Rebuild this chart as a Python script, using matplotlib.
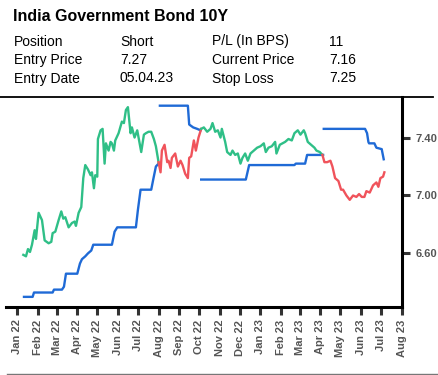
import pandas as pd
import matplotlib.pyplot as plt
import matplotlib.dates as mdates
from matplotlib.lines import Line2D

plt.rcParams['font.family'] = ['Liberation Sans', 'DejaVu Sans']

# yield history
price_dates = [
    "2022-01-10", "2022-01-14", "2022-01-17", "2022-01-20", "2022-01-23", "2022-01-27",
    "2022-01-29", "2022-02-02", "2022-02-07", "2022-02-11", "2022-02-17", "2022-02-21",
    "2022-02-23", "2022-02-27", "2022-03-04", "2022-03-08", "2022-03-11", "2022-03-14",
    "2022-03-19", "2022-03-24", "2022-03-28", "2022-03-30", "2022-04-03", "2022-04-07",
    "2022-04-10", "2022-04-13", "2022-04-17", "2022-04-21", "2022-04-23", "2022-04-26",
    "2022-04-28", "2022-05-01", "2022-05-02", "2022-05-06", "2022-05-09", "2022-05-12",
    "2022-05-14", "2022-05-18", "2022-05-21", "2022-05-23", "2022-05-26", "2022-05-28",
    "2022-06-02", "2022-06-07", "2022-06-10", "2022-06-13", "2022-06-16", "2022-06-20",
    "2022-06-22", "2022-06-26", "2022-06-30", "2022-07-02", "2022-07-06", "2022-07-10",
    "2022-07-13", "2022-07-17", "2022-07-21", "2022-07-25", "2022-07-28", "2022-08-01",
    "2022-08-04", "2022-08-06", "2022-08-10", "2022-08-14", "2022-08-16", "2022-08-19",
    "2022-08-21", "2022-08-26", "2022-08-30", "2022-09-03", "2022-09-06", "2022-09-10",
    "2022-09-14", "2022-09-16", "2022-09-19", "2022-09-23", "2022-09-26", "2022-09-30",
    "2022-10-04", "2022-10-08", "2022-10-13", "2022-10-18", "2022-10-21", "2022-10-25",
    "2022-10-29", "2022-11-02", "2022-11-04", "2022-11-09", "2022-11-12", "2022-11-17",
    "2022-11-20", "2022-11-24", "2022-11-28", "2022-12-02", "2022-12-05", "2022-12-09",
    "2022-12-13", "2022-12-17", "2022-12-22", "2022-12-27", "2023-01-01", "2023-01-06",
    "2023-01-09", "2023-01-13", "2023-01-18", "2023-01-23", "2023-01-25", "2023-01-30",
    "2023-02-03", "2023-02-07", "2023-02-12", "2023-02-17", "2023-02-21", "2023-02-26",
    "2023-03-02", "2023-03-07", "2023-03-09", "2023-03-13", "2023-03-18", "2023-03-23",
    "2023-03-26", "2023-03-31", "2023-04-04", "2023-04-07", "2023-04-11", "2023-04-16",
    "2023-04-19", "2023-04-23", "2023-04-28", "2023-05-02", "2023-05-05", "2023-05-10",
    "2023-05-15", "2023-05-20", "2023-05-25", "2023-05-29", "2023-06-02", "2023-06-06",
    "2023-06-09", "2023-06-14", "2023-06-19", "2023-06-24", "2023-06-27", "2023-06-30",
    "2023-07-04", "2023-07-06",
]
price_values = [
    6.59, 6.58, 6.63, 6.61, 6.66, 6.76,
    6.70, 6.88, 6.83, 6.69, 6.67, 6.68,
    6.74, 6.75, 6.83, 6.89, 6.84, 6.85,
    6.78, 6.81, 6.82, 6.79, 6.88, 6.92,
    7.12, 7.21, 7.18, 7.14, 7.16, 7.05,
    7.14, 7.13, 7.39, 7.45, 7.46, 7.22,
    7.36, 7.31, 7.37, 7.36, 7.31, 7.38,
    7.43, 7.51, 7.50, 7.59, 7.61, 7.43,
    7.47, 7.40, 7.45, 7.40, 7.30, 7.42,
    7.43, 7.44, 7.44, 7.39, 7.34, 7.23,
    7.16, 7.31, 7.35, 7.23, 7.24, 7.19,
    7.26, 7.29, 7.20, 7.24, 7.21, 7.15,
    7.12, 7.26, 7.27, 7.38, 7.31, 7.40,
    7.46, 7.47, 7.44, 7.46, 7.50, 7.44,
    7.45, 7.40, 7.46, 7.37, 7.30, 7.28,
    7.31, 7.28, 7.29, 7.22, 7.26, 7.29,
    7.24, 7.29, 7.31, 7.33, 7.34, 7.36,
    7.30, 7.33, 7.34, 7.37, 7.29, 7.35,
    7.36, 7.37, 7.39, 7.38, 7.43, 7.45,
    7.42, 7.45, 7.43, 7.37, 7.35, 7.33,
    7.31, 7.30, 7.28, 7.23, 7.23, 7.24,
    7.20, 7.12, 7.10, 7.04, 7.04, 7.00,
    6.97, 7.00, 6.99, 7.01, 6.99, 6.99,
    7.03, 7.02, 7.07, 7.09, 7.06, 7.12,
    7.13, 7.16,
]

# trades: start date and side
trade_starts = ["2022-01-10", "2022-08-01", "2022-10-04", "2023-04-04"]
trade_sides = ["Long", "Short", "Long", "Short"]

# trailing stop levels for each trade
stop_dates = [
    ["2022-01-11", "2022-01-24", "2022-01-26", "2022-02-23", "2022-02-25", "2022-03-09",
     "2022-03-12", "2022-03-15", "2022-04-01", "2022-04-05", "2022-04-08", "2022-04-13",
     "2022-04-17", "2022-04-22", "2022-04-25", "2022-05-23", "2022-05-27", "2022-05-31",
     "2022-06-28", "2022-07-01", "2022-07-05", "2022-07-21", "2022-07-24", "2022-07-28",
     "2022-08-01"],
    ["2022-08-03", "2022-09-14", "2022-09-16", "2022-09-22", "2022-09-28", "2022-10-03"],
    ["2022-10-04", "2022-12-10", "2022-12-13", "2022-12-15", "2023-02-21", "2023-02-23",
     "2023-03-09", "2023-03-12", "2023-04-05"],
    ["2023-04-06", "2023-06-07", "2023-06-10", "2023-06-12", "2023-06-13", "2023-06-21",
     "2023-06-24", "2023-07-02", "2023-07-05"],
]
stop_values = [
    [6.30, 6.30, 6.33, 6.33, 6.35, 6.35,
     6.37, 6.46, 6.46, 6.53, 6.56, 6.58,
     6.60, 6.62, 6.66, 6.66, 6.75, 6.78,
     6.78, 6.90, 7.04, 7.04, 7.11, 7.20,
     7.22],
    [7.62, 7.62, 7.49, 7.47, 7.46, 7.45],
    [7.11, 7.11, 7.17, 7.21, 7.21, 7.22, 7.22, 7.28, 7.28],
    [7.46, 7.46, 7.43, 7.37, 7.36, 7.36, 7.33, 7.32, 7.25],
]

info_rows = [
    ["Position", "Short", "P/L (In BPS)", "11"],
    ["Entry Price", "7.27", "Current Price", "7.16"],
    ["Entry Date", "05.04.23", "Stop Loss", "7.25"],
]

green = "#2fbf87"
red = "#f0535b"
blue = "#1f6ad6"

W, H = 438, 375
fig = plt.figure(figsize=(W / 100, H / 100), dpi=100)
ax = fig.add_axes([6 / W, 1 - 307 / H, (401.7 - 6) / W, (307 - 97) / H])

price = pd.Series(price_values, index=pd.to_datetime(price_dates))
starts = pd.to_datetime(trade_starts)
for i, side in enumerate(trade_sides):
    end = starts[i + 1] if i + 1 < len(starts) else price.index[-1]
    seg = price[(price.index >= starts[i]) & (price.index <= end)]
    ax.plot(seg.index, seg.values, color=green if side == "Long" else red,
            lw=1.7, solid_joinstyle="round", zorder=3)

for d, v in zip(stop_dates, stop_values):
    ax.plot(pd.to_datetime(d), v, color=blue, lw=1.7, zorder=2)

ax.set_xlim(pd.Timestamp("2021-12-15"), pd.Timestamp("2023-08-01"))
ax.set_ylim(6.23, 7.68)

ax.xaxis.set_major_locator(mdates.MonthLocator())
ax.xaxis.set_major_formatter(mdates.DateFormatter("%b %y"))
ax.set_yticks([6.6, 7.0, 7.4])
ax.yaxis.set_major_formatter(plt.FuncFormatter(lambda v, p: f"{v:.2f}"))
ax.yaxis.tick_right()

ax.tick_params(axis="x", length=6, width=2.2, color="#333", labelsize=8,
               labelcolor="#555", labelrotation=90, pad=3)
ax.tick_params(axis="y", length=6, width=2.2, color="#333", labelsize=8,
               labelcolor="#555", pad=4)
for lab in ax.get_xticklabels() + ax.get_yticklabels():
    lab.set_fontweight("bold")

for s in ["top", "left"]:
    ax.spines[s].set_visible(False)
ax.spines["bottom"].set_linewidth(2.2)
ax.spines["right"].set_linewidth(2.2)

# header block
fig.text(13 / W, 1 - 21 / H, "India Government Bond 10Y", fontsize=11.5,
         fontweight="bold", va="baseline", ha="left")
col_x = [14, 120, 212, 329]
row_y = [45.5, 64, 82.5]
for r, row in enumerate(info_rows):
    for c, txt in enumerate(row):
        fig.text(col_x[c] / W, 1 - row_y[r] / H, txt, fontsize=10,
                 va="baseline", ha="left")

fig.add_artist(Line2D([0, 433 / W], [1 - 97 / H, 1 - 97 / H], color="black",
                      lw=1.3, transform=fig.transFigure))
fig.add_artist(Line2D([7 / W, 1], [1 - 374 / H, 1 - 374 / H], color="#777",
                      lw=1.0, transform=fig.transFigure))

fig.savefig("out.png", dpi=100)
